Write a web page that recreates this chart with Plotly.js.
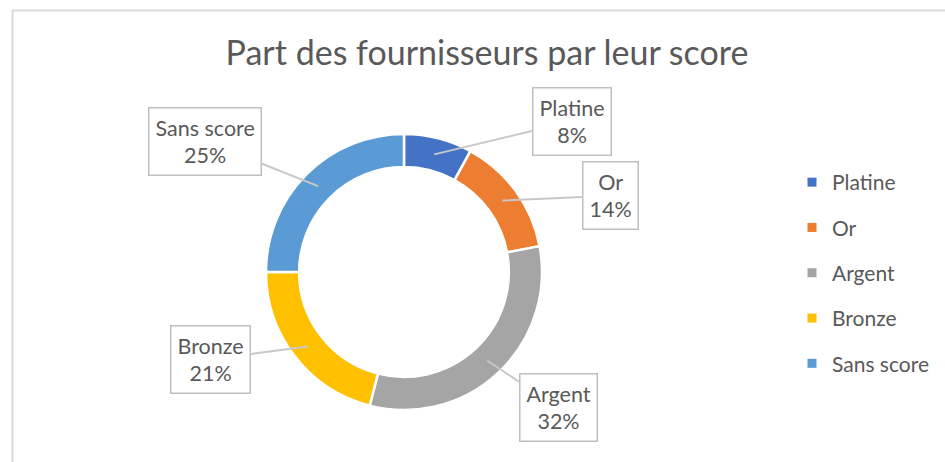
<!DOCTYPE html>
<html>
<head>
<meta charset="utf-8">
<script src="https://cdn.plot.ly/plotly-3.0.1.min.js"></script>
<style>html,body{margin:0;padding:0;background:#fff;}#chart{width:945px;height:462px;}</style>
</head>
<body>
<div id="chart"></div>
<script>
// ---- data ----
const categories = ["Platine", "Or", "Argent", "Bronze", "Sans score"];
const shares = [8, 14, 32, 21, 25];
const colors = ["#4472C4", "#ED7D31", "#A5A5A5", "#FFC000", "#5B9BD5"];
const chartTitle = "Part des fournisseurs par leur score";

// ---- layout constants (pixels) ----
const W = 945, H = 462;
const cx = 404, cy = 272, R = 138, HOLE = 0.76;
const tipR = R * (1 + HOLE) / 2;
// callout box offsets relative to arrow tip (pixels)
const boxOffsets = [[138, -33], [108, -5], [71, 47], [-98, 13], [-113, -45]];
const FONT = "Lato, 'Open Sans', sans-serif";
const TXT = "#595959";

const total = shares.reduce((a, b) => a + b, 0);

const pie = {
  type: "pie",
  labels: categories,
  values: shares,
  sort: false,
  direction: "clockwise",
  rotation: 0,
  hole: HOLE,
  textinfo: "none",
  marker: { colors: colors, line: { color: "#ffffff", width: 2.5 } },
  showlegend: false,
  domain: {
    x: [(cx - R) / W, (cx + R) / W],
    y: [(H - cy - R) / H, (H - cy + R) / H]
  },
  hoverinfo: "label+percent"
};

// legend entries built from the same arrays
const legendTraces = categories.map((c, i) => ({
  type: "scatter",
  mode: "markers",
  x: [null], y: [null],
  name: c,
  legendgroup: "g" + i,
  marker: { symbol: "square", size: 9, color: colors[i] },
  showlegend: true,
  hoverinfo: "skip"
}));

// callout annotations
let cum = 0;
const annotations = categories.map((c, i) => {
  const mid = (cum + shares[i] / 2) / total * 2 * Math.PI;
  cum += shares[i];
  const px = cx + tipR * Math.sin(mid);
  const py = cy - tipR * Math.cos(mid);
  const pct = Math.round(shares[i] / total * 100);
  return {
    xref: "paper", yref: "paper",
    x: px / W, y: 1 - py / H,
    text: c + "<br>" + pct + "%",
    showarrow: true,
    arrowhead: 0, arrowwidth: 2, arrowcolor: "#c8c8c8",
    ax: boxOffsets[i][0], ay: boxOffsets[i][1],
    standoff: 0,
    bgcolor: "#ffffff",
    bordercolor: "#bfbfbf", borderwidth: 1.5, borderpad: 6,
    font: { family: FONT, size: 21.5, color: TXT },
    align: "center"
  };
});

const layout = {
  width: W, height: H,
  margin: { l: 0, r: 0, t: 0, b: 0 },
  paper_bgcolor: "#ffffff",
  plot_bgcolor: "rgba(0,0,0,0)",
  title: {
    text: chartTitle,
    x: 487 / W, xanchor: "center",
    y: 1 - 53 / H, yanchor: "middle",
    font: { family: FONT, size: 34, color: TXT }
  },
  xaxis: { visible: false, range: [0, 1] },
  yaxis: { visible: false, range: [0, 1] },
  showlegend: true,
  legend: {
    x: 792 / W, xanchor: "left",
    y: 1 - 273 / H, yanchor: "middle",
    font: { family: FONT, size: 21, color: TXT },
    tracegroupgap: 15,
    itemwidth: 30,
    bgcolor: "rgba(0,0,0,0)"
  },
  annotations: annotations,
  shapes: [
    { type: "line", xref: "paper", yref: "paper", x0: 12 / W, x1: 1, y0: 1 - 10.5 / H, y1: 1 - 10.5 / H,
      line: { color: "#d9d9d9", width: 2 } },
    { type: "line", xref: "paper", yref: "paper", x0: 12.5 / W, x1: 12.5 / W, y0: 0, y1: 1 - 10 / H,
      line: { color: "#d9d9d9", width: 2 } }
  ]
};

Plotly.newPlot("chart", [pie].concat(legendTraces), layout, { displayModeBar: false, staticPlot: true });
</script>
</body>
</html>
